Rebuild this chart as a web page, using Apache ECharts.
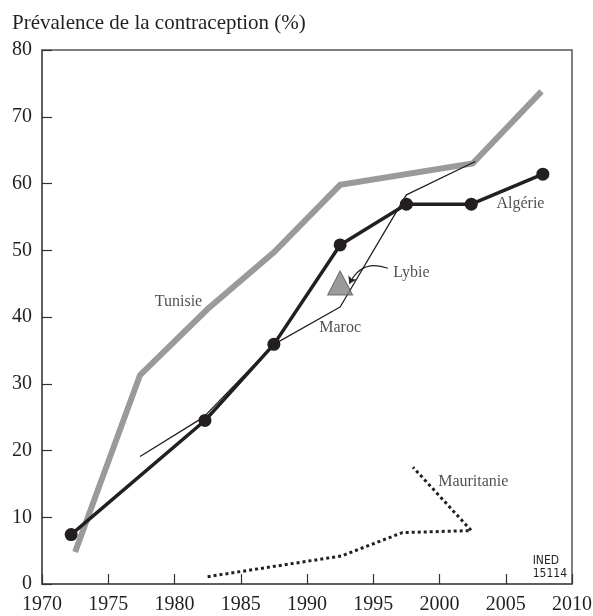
<!DOCTYPE html>
<html>
<head>
<meta charset="utf-8">
<script src="https://cdn.jsdelivr.net/npm/echarts@6/dist/echarts.min.js"></script>
<style>
    html, body { margin: 0; padding: 0; background: #fff; }
    #chart { width: 593px; height: 616px; }
</style>
</head>
<body>
<div id="chart"></div>
<script>
    // [année, prévalence %]
    var tunisie = [[1972.5, 4.8], [1977.4, 31.3], [1982.5, 41.2], [1987.5, 49.7], [1992.5, 59.8], [2002.5, 63.0], [2007.7, 73.8]];
    var algerie = [[1972.2, 7.4], [1982.3, 24.5], [1987.5, 35.9], [1992.5, 50.8], [1997.5, 56.9], [2002.4, 56.9], [2007.8, 61.4]];
    var maroc = [[1977.4, 19.1], [1982.2, 25.0], [1987.5, 35.9], [1992.5, 41.5], [1997.5, 58.3], [2002.7, 63.3]];
    var mauritanie = [[1982.5, 1.1], [1992.6, 4.2], [1997.2, 7.7], [2002.4, 8.0], [1998.0, 17.5]];
    var lybie = [[1992.5, 45.1]];

    var countryLabels = [
        {name: "Tunisie", value: [1980.3, 42.3], align: "center"},
        {name: "Algérie", value: [2004.3, 57.0], align: "left"},
        {name: "Lybie", value: [1996.5, 46.6], align: "left"},
        {name: "Maroc", value: [1992.5, 38.35], align: "center"},
        {name: "Mauritanie", value: [1999.9, 15.3], align: "left"}
    ];
    var lybieArrow = [[1996.1, 47.3], [1993.2, 45.0]];

    var serif = "'Liberation Serif', 'Times New Roman', serif";
    var ink = "#231f20";

    var chart = echarts.init(document.getElementById("chart"));
    chart.setOption({
        animation: false,
        title: {
            text: "Prévalence de la contraception (%)",
            left: 7,
            top: 8,
            textStyle: {fontFamily: serif, fontSize: 21, fontWeight: "normal", color: ink}
        },
        grid: {
            left: 42, right: 21, top: 50, bottom: 32,
            outerBoundsMode: "none",
            show: true,
            borderColor: "#555",
            borderWidth: 1.5
        },
        xAxis: {
            type: "value",
            min: 1970, max: 2010, interval: 5,
            axisLine: {show: true, lineStyle: {color: "#555", width: 1.5}},
            axisTick: {show: true, inside: true, length: 10, lineStyle: {color: "#333", width: 1.2}},
            axisLabel: {
                fontFamily: serif, fontSize: 20, color: ink, margin: 11, showMaxLabel: true,
                formatter: function (v) { return String(v); }
            },
            splitLine: {show: false}
        },
        yAxis: {
            type: "value",
            min: 0, max: 80, interval: 10,
            axisLine: {show: true, lineStyle: {color: "#555", width: 1.5}},
            axisTick: {show: true, inside: true, length: 10, lineStyle: {color: "#333", width: 1.2}},
            axisLabel: {fontFamily: serif, fontSize: 20, color: ink, margin: 10},
            splitLine: {show: false}
        },
        graphic: [{
            type: "text",
            right: 26,
            bottom: 36,
            style: {
                text: "INED\n15114",
                align: "right",
                fontFamily: "'Liberation Sans Narrow', 'DejaVu Sans Condensed', sans-serif",
                fontSize: 12,
                lineHeight: 13,
                fill: ink
            }
        }],
        series: [
            {
                name: "Tunisie", type: "line", data: tunisie,
                symbol: "none",
                lineStyle: {color: "#999a9c", width: 6, join: "miter"},
                z: 2
            },
            {
                name: "Maroc", type: "line", data: maroc,
                symbol: "none",
                lineStyle: {color: ink, width: 1.3},
                z: 3
            },
            {
                name: "Algérie", type: "line", data: algerie,
                symbol: "circle", symbolSize: 13,
                itemStyle: {color: ink},
                lineStyle: {color: ink, width: 3.5},
                z: 4
            },
            {
                name: "Mauritanie", type: "line", data: mauritanie,
                symbol: "none",
                lineStyle: {color: ink, width: 3, type: [3, 3]},
                z: 3
            },
            {
                name: "Lybie", type: "scatter", data: lybie,
                symbol: "triangle", symbolSize: [25, 24],
                itemStyle: {color: "#808285", borderColor: "#555", borderWidth: 1},
                z: 5
            },
            {
                name: "flèche", type: "lines",
                coordinateSystem: "cartesian2d",
                silent: true,
                symbol: ["none", "arrow"],
                symbolSize: 7,
                lineStyle: {color: ink, width: 1.2, opacity: 1, curveness: -0.45},
                data: [{coords: lybieArrow}],
                z: 6
            },
            {
                name: "labels", type: "scatter",
                symbolSize: 0,
                data: countryLabels.map(function (d) {
                    return {
                        name: d.name,
                        value: d.value,
                        label: {align: d.align}
                    };
                }),
                label: {
                    show: true,
                    position: "inside",
                    formatter: "{b}",
                    fontFamily: serif,
                    fontSize: 16,
                    color: ink,
                    verticalAlign: "middle"
                },
                z: 6
            }
        ]
    });
</script>
</body>
</html>
